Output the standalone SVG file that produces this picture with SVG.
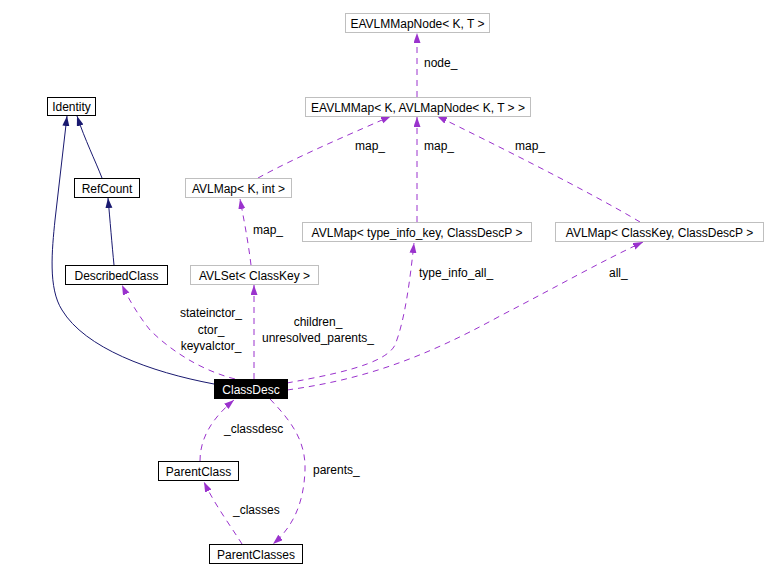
<svg xmlns="http://www.w3.org/2000/svg" width="777" height="577" viewBox="0 0 777 577">
<style>
text{font-family:"Liberation Sans",Arial,sans-serif;font-size:12px;fill:#000}
.n rect{fill:#fff;stroke:#000;stroke-width:1}
.g rect{fill:#fff;stroke:#bfbfbf;stroke-width:1}
.c rect{fill:#000;stroke:#000}
.c text{fill:#fff}
.nt{text-anchor:middle}
.u{fill:none;stroke:#9a32cd;stroke-width:1;stroke-dasharray:6,5}
.i{fill:none;stroke:#191970;stroke-width:1}
.pu{marker-end:url(#ap)}
.pi{marker-end:url(#an)}
</style>
<defs>
<marker id="ap" markerUnits="userSpaceOnUse" markerWidth="11" markerHeight="8" refX="10" refY="3.5" orient="auto"><path d="M0,0 L10,3.5 L0,7 z" fill="#9a32cd"/></marker>
<marker id="an" markerUnits="userSpaceOnUse" markerWidth="11" markerHeight="8" refX="10" refY="3.5" orient="auto"><path d="M0,0 L10,3.5 L0,7 z" fill="#191970"/></marker>
</defs>
<rect width="777" height="577" fill="#fff"/>
<g id="edges">
<path class="u pu" d="M417,97 L417,33"/>
<path class="u pu" d="M258,178 C300,155 360,130 391,116"/>
<path class="u pu" d="M417,222 L417,117"/>
<path class="u pu" d="M640,222 C590,192 490,142 437,116"/>
<path class="u pu" d="M251,265 C248,240 243,215 240,199"/>
<path class="u pu" d="M235,379 C200,370 170,350 150,330 C138,315 128,298 122,285"/>
<path class="u pu" d="M254,379 L254,285"/>
<path class="u pu" d="M287,383 C330,375 385,365 395,345 C405,320 410,280 414,243"/>
<path class="u pu" d="M287,390 C360,380 420,360 500,316 C560,285 600,262 643,242"/>
<path class="u pu" d="M200,461 C200,440 210,420 234,400"/>
<path class="u pu" d="M270,399 C290,420 306,440 305,470 C304,500 295,525 273,544"/>
<path class="u pu" d="M242,544 C230,525 215,505 204,482"/>
<path class="i pi" d="M102,178 C95,160 85,140 77,116"/>
<path class="i pi" d="M114,265 C112,245 110,220 108,198"/>
<path class="i pi" d="M214,384 C150,372 85,348 62,310 C48,288 52,250 55,220 L67,116"/>
<text x="424" y="67">node_</text>
<text x="355" y="150">map_</text>
<text x="424" y="150">map_</text>
<text x="515" y="150">map_</text>
<text x="253" y="234">map_</text>
<text x="419" y="277">type_info_all_</text>
<text x="609" y="277">all_</text>
<text x="318" y="326" class="nt">children_</text>
<text x="318" y="342" class="nt">unresolved_parents_</text>
<text x="211" y="317" class="nt">stateinctor_</text>
<text x="211" y="334" class="nt">ctor_</text>
<text x="211" y="350" class="nt">keyvalctor_</text>
<text x="224" y="433">_classdesc</text>
<text x="313" y="474">parents_</text>
<text x="233" y="514">_classes</text>
</g>
<g id="EAVLMMapNode" class="g"><rect x="345.5" y="13.5" width="144" height="19"/><text class="nt" x="417.5" y="27.5">EAVLMMapNode&lt; K, T &gt;</text></g>
<g id="EAVLMMap" class="g"><rect x="305.5" y="97.5" width="225" height="19"/><text class="nt" x="418" y="111.5">EAVLMMap&lt; K, AVLMapNode&lt; K, T &gt; &gt;</text></g>
<g id="Identity" class="n"><rect x="47.5" y="97.5" width="48" height="18"/><text class="nt" x="71.5" y="111">Identity</text></g>
<g id="RefCount" class="n"><rect x="74.5" y="178.5" width="65" height="19"/><text class="nt" x="107" y="192.5">RefCount</text></g>
<g id="DescribedClass" class="n"><rect x="65.5" y="265.5" width="102" height="19"/><text class="nt" x="116.5" y="279.5">DescribedClass</text></g>
<g id="AVLMapKint" class="g"><rect x="185.5" y="178.5" width="106" height="19"/><text class="nt" x="238.5" y="192.5">AVLMap&lt; K, int &gt;</text></g>
<g id="AVLSetClassKey" class="g"><rect x="190.5" y="265.5" width="128" height="19"/><text class="nt" x="254.5" y="279.5">AVLSet&lt; ClassKey &gt;</text></g>
<g id="AVLMapTypeInfo" class="g"><rect x="302.5" y="222.5" width="229" height="19"/><text class="nt" x="417" y="236.5">AVLMap&lt; type_info_key, ClassDescP &gt;</text></g>
<g id="AVLMapClassKey" class="g"><rect x="555.5" y="222.5" width="208" height="19"/><text class="nt" x="659.5" y="236.5">AVLMap&lt; ClassKey, ClassDescP &gt;</text></g>
<g id="ClassDesc" class="c"><rect x="214.5" y="379.5" width="73" height="19"/><text class="nt" x="251" y="393.5">ClassDesc</text></g>
<g id="ParentClass" class="n"><rect x="158.5" y="461.5" width="80" height="19"/><text class="nt" x="198.5" y="475.5">ParentClass</text></g>
<g id="ParentClasses" class="n"><rect x="209.5" y="544.5" width="93" height="19"/><text class="nt" x="256" y="558.5">ParentClasses</text></g>
</svg>
